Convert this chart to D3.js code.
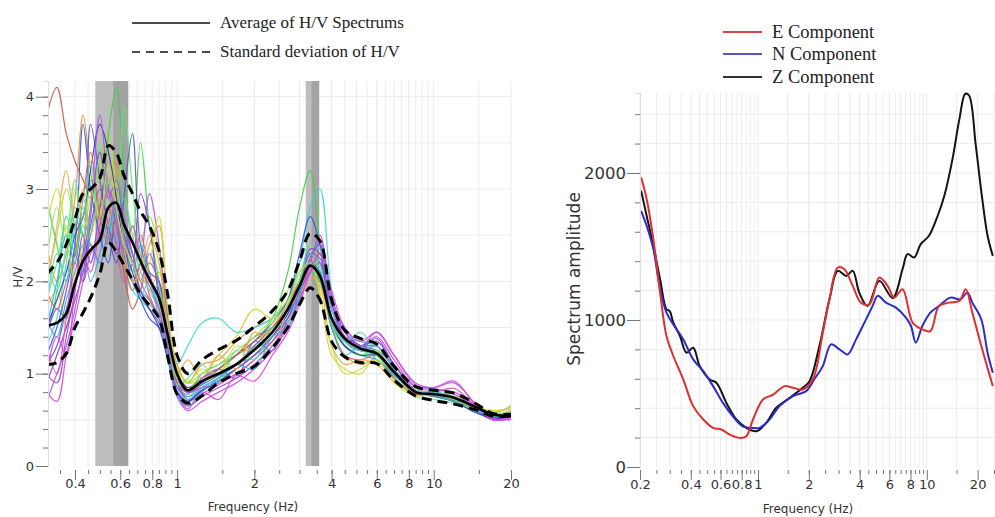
<!DOCTYPE html>
<html>
<head>
<meta charset="utf-8">
<script src="https://cdn.jsdelivr.net/npm/d3@7"></script>
<style>
  body { margin: 0; background: #fff; }
  svg { display: block; }
</style>
</head>
<body>
<script>
// ---------- left chart data (H/V) ----------
const hvFreq = [0.31, 0.34, 0.37, 0.40, 0.43, 0.46, 0.50, 0.54, 0.58, 0.62, 0.67, 0.72, 0.78, 0.85, 0.92,
  1.0, 1.1, 1.25, 1.45, 1.7, 2.0, 2.35, 2.7, 3.0, 3.3, 3.6, 4.0, 4.5, 5.2, 6.0, 7.0, 8.5, 10, 12, 14.5, 17, 20];

const hvMean = [1.52, 1.55, 1.65, 1.98, 2.22, 2.34, 2.45, 2.8, 2.85, 2.62, 2.42, 2.22, 2.02, 1.82, 1.42,
  1.0, 0.82, 0.92, 1.0, 1.1, 1.26, 1.45, 1.7, 1.95, 2.17, 2.06, 1.6, 1.38, 1.27, 1.22, 1.02, 0.8, 0.78, 0.74, 0.64, 0.56, 0.54];
const hvUpper = [2.08, 2.2, 2.4, 2.67, 2.95, 3.0, 3.12, 3.47, 3.39, 3.15, 2.95, 2.76, 2.6, 2.33, 1.85,
  1.2, 1.0, 1.15, 1.26, 1.36, 1.51, 1.68, 1.9, 2.22, 2.52, 2.44, 1.8, 1.47, 1.38, 1.32, 1.08, 0.86, 0.82, 0.79, 0.68, 0.57, 0.56];
const hvLower = [1.1, 1.12, 1.22, 1.5, 1.66, 1.82, 2.08, 2.42, 2.32, 2.18, 2.02, 1.86, 1.74, 1.6, 1.18,
  0.78, 0.68, 0.76, 0.9, 1.0, 1.08, 1.28, 1.5, 1.75, 1.93, 1.8, 1.35, 1.18, 1.12, 1.11, 0.93, 0.76, 0.71, 0.67, 0.61, 0.54, 0.54];

// individual windows
const hvColors = ["#c4553c", "#e8922c", "#d6cf34", "#a8e040", "#3fcf45", "#5cf05a", "#30c890", "#34d6d6",
  "#42a2e8", "#3456e0", "#5a52d4", "#7a40d8", "#9a42c8", "#d244d8", "#e052b2", "#92e862", "#2a3ab2",
  "#e26442", "#52caf0", "#b052e0", "#f0a848", "#5ee0a0", "#7e5ee6", "#e23ee2", "#2fb2d4", "#c2e030"];
const hvCurves = [
  [3.8, 4.1, 3.6, 3.3, 3.1, 2.9, 3.4, 3.0, 2.6, 2.1, 1.7, 1.9, 2.2, 2.0, 1.5, 1.0, 0.85, 0.95, 1.05, 1.2, 1.4, 1.5, 1.75, 2.0, 2.2, 2.0, 1.6, 1.4, 1.3, 1.2, 1.0, 0.82, 0.8, 0.75, 0.65, 0.55, 0.55],
  [2.4, 2.0, 2.3, 2.9, 3.8, 3.2, 2.6, 3.0, 3.3, 2.5, 2.2, 2.0, 2.4, 2.6, 1.6, 1.1, 0.9, 1.1, 1.15, 1.35, 1.5, 1.6, 1.8, 2.0, 2.2, 2.1, 1.5, 1.2, 1.1, 1.15, 0.95, 0.78, 0.76, 0.72, 0.62, 0.55, 0.6],
  [1.7, 1.9, 1.5, 2.2, 2.6, 2.3, 2.7, 3.5, 3.0, 2.2, 2.6, 2.3, 1.9, 2.1, 1.5, 1.05, 0.9, 0.95, 1.2, 1.4, 1.7, 1.6, 1.9, 2.1, 2.3, 1.9, 1.2, 1.05, 1.0, 1.2, 0.95, 0.78, 0.8, 0.76, 0.65, 0.6, 0.62],
  [2.0, 2.5, 3.0, 2.6, 2.2, 2.8, 3.2, 3.6, 3.0, 2.6, 2.2, 2.4, 2.7, 2.3, 1.5, 0.95, 0.8, 0.9, 1.0, 1.2, 1.3, 1.5, 1.8, 2.2, 2.4, 2.2, 1.7, 1.4, 1.35, 1.3, 1.05, 0.8, 0.78, 0.7, 0.62, 0.55, 0.6],
  [2.9, 2.4, 2.0, 2.7, 2.5, 3.1, 2.8, 3.6, 4.1, 3.2, 2.4, 3.5, 2.6, 2.0, 1.4, 0.9, 0.8, 1.0, 1.1, 1.2, 1.35, 1.6, 2.1, 2.8, 3.2, 2.4, 1.6, 1.3, 1.2, 1.25, 1.0, 0.8, 0.78, 0.72, 0.6, 0.55, 0.58],
  [1.8, 2.2, 2.6, 2.3, 2.8, 2.5, 3.5, 3.0, 2.6, 3.9, 3.0, 2.3, 2.0, 1.9, 1.3, 0.85, 0.75, 0.9, 1.0, 1.1, 1.2, 1.4, 1.6, 1.9, 2.1, 2.0, 1.5, 1.3, 1.2, 1.2, 0.95, 0.75, 0.72, 0.68, 0.6, 0.55, 0.56],
  [1.4, 1.9, 2.7, 2.4, 2.1, 2.5, 2.9, 2.4, 3.2, 2.7, 2.2, 1.9, 1.8, 1.6, 1.2, 0.8, 0.7, 0.85, 0.95, 1.05, 1.2, 1.35, 1.6, 1.85, 2.1, 2.0, 1.6, 1.35, 1.25, 1.2, 1.0, 0.8, 0.76, 0.7, 0.6, 0.52, 0.54],
  [1.3, 1.6, 2.2, 2.8, 2.5, 2.2, 2.6, 2.9, 2.5, 2.2, 1.9, 1.8, 1.7, 1.6, 1.45, 1.1, 1.3, 1.55, 1.6, 1.45, 1.5, 1.6, 1.8, 2.2, 2.8, 3.0, 1.9, 1.4, 1.35, 1.3, 1.05, 0.82, 0.8, 0.74, 0.62, 0.55, 0.56],
  [1.6, 1.4, 1.8, 2.1, 2.4, 2.0, 2.3, 2.8, 2.4, 2.6, 2.3, 1.9, 1.75, 1.65, 1.3, 0.9, 0.75, 0.85, 0.95, 1.1, 1.25, 1.4, 1.65, 1.95, 2.3, 2.2, 1.6, 1.3, 1.2, 1.15, 0.98, 0.8, 0.75, 0.7, 0.6, 0.55, 0.55],
  [1.2, 1.5, 1.9, 2.4, 3.7, 3.0, 2.5, 2.2, 2.8, 2.4, 2.0, 1.8, 1.6, 1.5, 1.35, 1.0, 0.85, 0.9, 1.05, 1.2, 1.35, 1.55, 1.8, 2.3, 2.7, 2.4, 1.7, 1.4, 1.3, 1.3, 1.05, 0.8, 0.78, 0.72, 0.6, 0.52, 0.55],
  [1.1, 1.3, 1.7, 2.0, 2.3, 3.7, 3.1, 2.5, 2.2, 2.9, 3.6, 2.4, 2.1, 2.0, 1.4, 0.95, 0.8, 0.88, 0.98, 1.1, 1.3, 1.5, 1.7, 2.0, 2.35, 2.3, 1.7, 1.4, 1.3, 1.25, 1.1, 0.8, 0.76, 0.7, 0.6, 0.55, 0.56],
  [0.9, 1.2, 1.5, 1.8, 2.1, 2.6, 3.0, 2.6, 2.3, 2.5, 2.2, 2.95, 2.6, 1.8, 1.3, 0.9, 0.72, 0.82, 0.9, 1.0, 1.15, 1.35, 1.6, 1.9, 2.25, 2.4, 1.75, 1.45, 1.3, 1.35, 1.1, 0.82, 0.8, 0.74, 0.62, 0.55, 0.55],
  [1.0, 0.9, 1.4, 1.9, 2.5, 2.2, 2.8, 3.3, 2.9, 2.5, 2.2, 1.9, 1.7, 1.55, 1.2, 0.8, 0.65, 0.75, 0.85, 0.95, 1.1, 1.3, 1.55, 1.8, 2.1, 2.2, 1.6, 1.35, 1.25, 1.3, 1.05, 0.78, 0.78, 0.72, 0.6, 0.5, 0.54],
  [0.8, 0.7, 1.2, 1.6, 2.0, 2.4, 2.2, 2.6, 3.0, 2.7, 2.3, 2.0, 1.8, 1.6, 1.2, 0.75, 0.6, 0.7, 0.8, 0.9, 1.05, 1.25, 1.5, 1.8, 2.2, 2.5, 1.8, 1.4, 1.3, 1.4, 1.15, 0.85, 0.82, 0.8, 0.65, 0.5, 0.52],
  [1.3, 1.0, 1.6, 2.2, 2.0, 2.3, 2.5, 2.8, 2.4, 2.0, 2.2, 2.5, 2.1, 1.7, 1.3, 0.85, 0.7, 0.78, 0.88, 1.0, 1.15, 1.35, 1.55, 1.85, 2.15, 2.3, 1.7, 1.35, 1.25, 1.3, 1.05, 0.82, 0.8, 0.84, 0.65, 0.52, 0.55],
  [2.2, 2.8, 2.4, 3.0, 2.6, 2.9, 3.3, 2.8, 3.1, 2.3, 2.0, 2.3, 2.0, 1.75, 1.3, 0.95, 0.9, 1.0, 1.1, 1.25, 1.4, 1.6, 1.8, 2.05, 2.25, 2.1, 1.6, 1.35, 1.2, 1.25, 1.0, 0.78, 0.78, 0.72, 0.62, 0.56, 0.66],
  [1.5, 1.8, 2.1, 2.5, 2.7, 3.2, 3.7, 3.4, 2.9, 2.4, 2.1, 1.85, 1.7, 1.5, 1.15, 0.8, 0.7, 0.82, 0.92, 1.05, 1.2, 1.4, 1.65, 1.95, 2.2, 2.1, 1.55, 1.3, 1.2, 1.2, 1.0, 0.8, 0.76, 0.7, 0.58, 0.52, 0.54],
  [1.9, 1.7, 2.0, 2.3, 2.9, 3.4, 2.7, 2.4, 2.7, 2.2, 1.9, 2.2, 1.85, 1.6, 1.25, 0.9, 0.8, 0.92, 1.05, 1.2, 1.35, 1.5, 1.7, 1.95, 2.2, 2.05, 1.5, 1.2, 1.15, 1.2, 0.95, 0.78, 0.76, 0.7, 0.6, 0.55, 0.56],
  [1.7, 2.3, 2.0, 2.6, 2.9, 2.6, 2.9, 2.6, 2.7, 2.3, 2.0, 1.85, 2.0, 1.7, 1.3, 0.85, 0.72, 0.85, 0.95, 1.1, 1.25, 1.45, 1.7, 2.0, 2.4, 2.35, 1.7, 1.35, 1.25, 1.3, 1.05, 0.8, 0.8, 0.75, 0.62, 0.55, 0.55],
  [0.7, 1.0, 1.3, 1.7, 2.2, 2.8, 3.8, 3.0, 2.6, 2.3, 2.0, 2.2, 2.95, 2.4, 1.6, 1.0, 0.8, 0.85, 0.9, 1.05, 1.2, 1.4, 1.6, 1.85, 2.2, 2.45, 1.85, 1.45, 1.3, 1.45, 1.2, 0.9, 0.85, 0.9, 0.68, 0.52, 0.5],
  [1.9, 2.6, 3.2, 2.7, 3.0, 2.5, 2.9, 2.6, 3.2, 2.4, 2.0, 2.1, 2.5, 2.2, 1.4, 1.0, 1.15, 0.95, 1.2, 1.05, 1.45, 1.3, 1.7, 1.85, 2.05, 1.95, 1.3, 1.1, 1.15, 1.1, 0.92, 0.8, 0.78, 0.74, 0.62, 0.58, 0.64],
  [2.3, 1.9, 2.4, 3.1, 2.7, 3.3, 2.6, 3.1, 2.7, 2.9, 2.5, 2.1, 1.9, 1.7, 1.35, 0.88, 0.95, 1.1, 0.9, 1.25, 1.15, 1.5, 1.55, 2.0, 2.3, 2.15, 1.55, 1.35, 1.45, 1.2, 1.0, 0.82, 0.8, 0.72, 0.6, 0.56, 0.58],
  [1.4, 1.7, 1.6, 2.3, 2.0, 2.7, 3.4, 2.9, 3.1, 2.6, 2.3, 2.0, 2.3, 1.9, 1.3, 0.85, 0.78, 0.95, 1.05, 0.95, 1.35, 1.25, 1.6, 1.9, 2.3, 2.25, 1.75, 1.5, 1.3, 1.38, 1.1, 0.86, 0.84, 0.78, 0.64, 0.54, 0.55],
  [1.0, 1.4, 1.2, 1.9, 2.3, 2.1, 2.6, 3.0, 2.7, 2.35, 2.6, 2.2, 1.95, 1.7, 1.25, 0.78, 0.62, 0.8, 0.72, 0.98, 0.92, 1.2, 1.45, 1.75, 2.1, 2.3, 1.9, 1.5, 1.35, 1.45, 1.2, 0.88, 0.85, 0.92, 0.66, 0.5, 0.52],
  [1.5, 2.0, 2.5, 2.2, 2.7, 2.4, 2.2, 2.5, 2.9, 2.5, 2.1, 2.4, 2.05, 1.6, 1.2, 0.75, 0.65, 0.8, 0.95, 1.1, 1.05, 1.4, 1.5, 1.85, 2.2, 2.1, 1.5, 1.2, 1.3, 1.15, 0.98, 0.8, 0.76, 0.7, 0.6, 0.54, 0.55],
  [2.6, 3.0, 2.5, 2.0, 2.4, 3.0, 2.7, 3.3, 2.8, 2.4, 2.2, 2.0, 2.2, 2.7, 1.7, 1.05, 0.92, 1.05, 1.0, 1.3, 1.25, 1.55, 1.75, 2.1, 2.2, 1.85, 1.3, 1.0, 1.05, 1.15, 0.9, 0.76, 0.78, 0.74, 0.64, 0.6, 0.62]
];

// peak bands [from, split, to] in Hz
const hvBands = [[0.48, 0.563, 0.645], [3.17, 3.33, 3.58]];

const hvTickLabels = [0.4, 0.6, 0.8, 1, 2, 4, 6, 8, 10, 20];
const hvYTicks = [0, 1, 2, 3, 4];

// ---------- right chart data (spectra) ----------
const freqZ = [0.203, 0.219, 0.24, 0.263, 0.287, 0.3, 0.315, 0.345, 0.377, 0.413, 0.452, 0.518, 0.567, 0.65, 0.745, 0.853, 0.977,
  1.12, 1.28, 1.54, 1.84, 2.02, 2.31, 2.65, 2.97, 3.33, 3.64, 3.98, 4.46, 5.23, 6.27, 7.18, 7.69, 8.42, 9.2, 10.3, 11.6, 12.7,
  14.2, 15.6, 16.9, 17.8, 19.5, 21.3, 22.9, 24.6];
const ampZ = [1880, 1709, 1505, 1277, 1073, 1060, 982, 891, 777, 811, 686, 595, 573, 436, 323, 266, 243,
  300, 402, 470, 539, 584, 823, 1141, 1334, 1300, 1334, 1186, 1095, 1266, 1150, 1345, 1448, 1425, 1516, 1573, 1709, 1845,
  2096, 2368, 2539, 2527, 2187, 1823, 1573, 1436];

const freqE = [0.203, 0.219, 0.24, 0.263, 0.287, 0.315, 0.361, 0.413, 0.474, 0.542, 0.607, 0.68, 0.78, 0.853, 0.934,
  1.07, 1.23, 1.44, 1.61, 1.84, 2.11, 2.42, 2.65, 2.97, 3.25, 3.64, 4.07, 4.57, 5.23, 5.86, 6.41, 7.18, 8.24, 9.41,
  10.5, 11.8, 13.5, 15.6, 17.0, 18.6, 21.3, 24.6];
const ampE = [1971, 1823, 1550, 1186, 891, 755, 595, 414, 323, 266, 255, 220, 198, 209, 323,
  459, 493, 550, 539, 527, 595, 914, 1141, 1357, 1345, 1232, 1118, 1107, 1289, 1232, 1152, 1209, 982, 936,
  925, 1095, 1118, 1130, 1209, 1050, 800, 550];

const freqN = [0.203, 0.219, 0.24, 0.263, 0.287, 0.315, 0.361, 0.413, 0.474, 0.542, 0.62, 0.71, 0.81, 0.934, 1.02,
  1.17, 1.34, 1.61, 1.93, 2.15, 2.42, 2.71, 3.04, 3.4, 3.81, 4.27, 4.77, 5.12, 5.73, 6.56, 7.52, 8.06, 8.6, 9.41,
  10.5, 11.8, 13.8, 15.8, 17.4, 18.6, 21.0, 22.9, 24.6];
const ampN = [1743, 1641, 1482, 1209, 1050, 970, 868, 732, 652, 550, 436, 345, 277, 266, 266,
  323, 414, 482, 516, 595, 686, 834, 800, 766, 868, 982, 1095, 1164, 1118, 1084, 1016, 959, 846, 959,
  1050, 1095, 1152, 1141, 1186, 1118, 1005, 777, 641];

const specSeries = [
  { name: "E Component", freq: freqE, amp: ampE, color: "#dd3030" },
  { name: "N Component", freq: freqN, amp: ampN, color: "#2c2cc8" },
  { name: "Z Component", freq: freqZ, amp: ampZ, color: "#141414" }
];
const specTickLabels = [0.2, 0.4, 0.6, 0.8, 1, 2, 4, 6, 8, 10, 20];
const specYTicks = [0, 1000, 2000];

// ---------- page ----------
const W = 995, H = 517;
const svg = d3.select("body").append("svg").attr("width", W).attr("height", H);
const uiFont = "DejaVu Sans, Verdana, sans-serif";
const serif = "Liberation Serif, Times New Roman, serif";

// minor ticks above 1 Hz: half steps to 10, then 15 and 20
const minorHi = d3.range(1.5, 10, 0.5).concat([15]);
function fmt(v) { return d3.format("~g")(v); }

function drawGrid(g, x, y, xt, yt, x0, x1, y0, y1) {
  g.append("g").selectAll("line").data(xt).join("line")
    .attr("x1", d => x(d)).attr("x2", d => x(d)).attr("y1", y0).attr("y2", y1)
    .attr("stroke", "#ececec").attr("stroke-width", 1);
  g.append("g").selectAll("line").data(yt).join("line")
    .attr("x1", x0).attr("x2", x1).attr("y1", d => y(d)).attr("y2", d => y(d))
    .attr("stroke", "#ececec").attr("stroke-width", 1);
}

// ================= LEFT: H/V =================
const xL = d3.scaleLog().domain([0.314, 20]).range([48, 511]);
const yL = d3.scaleLinear().domain([0, 4.17]).range([466, 81]);
const gL = svg.append("g");

const minorL = d3.range(35, 100, 5).map(v => v / 100).concat(minorHi);
drawGrid(gL, xL, yL, minorL.concat([1, 2, 4, 6, 8, 10, 20]), d3.range(0.5, 4.2, 0.5), 48, 511, 466, 81);

// bands
hvBands.forEach(b => {
  gL.append("rect").attr("x", xL(b[0])).attr("y", 81).attr("width", xL(b[1]) - xL(b[0])).attr("height", 466 - 81)
    .attr("fill", "#bdbdbd");
  gL.append("rect").attr("x", xL(b[1])).attr("y", 81).attr("width", xL(b[2]) - xL(b[1])).attr("height", 466 - 81)
    .attr("fill", "#a3a3a6");
});

svg.append("clipPath").attr("id", "clipL").append("rect")
  .attr("x", 48).attr("y", 81).attr("width", 463).attr("height", 385);

const lineL = d3.line().x(d => xL(d[0])).y(d => yL(d[1])).curve(d3.curveCatmullRom.alpha(0.5));
const curvesG = gL.append("g").attr("clip-path", "url(#clipL)");
hvCurves.forEach((c, i) => {
  curvesG.append("path").attr("d", lineL(hvFreq.map((f, j) => [f, c[j]])))
    .attr("fill", "none").attr("stroke", hvColors[i]).attr("stroke-width", 1.2).attr("opacity", 0.9);
});
[hvUpper, hvLower].forEach(s => {
  curvesG.append("path").attr("d", lineL(hvFreq.map((f, j) => [f, s[j]])))
    .attr("fill", "none").attr("stroke", "#000").attr("stroke-width", 3)
    .attr("stroke-dasharray", "10,6");
});
curvesG.append("path").attr("d", lineL(hvFreq.map((f, j) => [f, hvMean[j]])))
  .attr("fill", "none").attr("stroke", "#000").attr("stroke-width", 2.6);

// axes
const axLmin = gL.append("g").attr("transform", "translate(0,470)")
  .call(d3.axisBottom(xL).tickValues(minorL).tickSize(4).tickFormat(""));
const axLmaj = gL.append("g").attr("transform", "translate(0,470)")
  .call(d3.axisBottom(xL).tickValues(hvTickLabels).tickSize(10).tickFormat(fmt));
[axLmin, axLmaj].forEach(a => { a.select(".domain").remove(); a.selectAll("line").attr("stroke", "#777"); });
axLmaj.selectAll("text").attr("font-family", uiFont).attr("font-size", 13).attr("fill", "#333").attr("dy", "0.55em")
  .attr("y", 11);

const ayLmin = gL.append("g").attr("transform", "translate(48,0)")
  .call(d3.axisLeft(yL).tickValues(d3.range(0, 4.1, 0.2)).tickSize(5).tickFormat(""));
const ayLmaj = gL.append("g").attr("transform", "translate(48,0)")
  .call(d3.axisLeft(yL).tickValues(hvYTicks).tickSize(12).tickFormat(fmt));
ayLmin.select(".domain").attr("stroke", "#ddd");
ayLmaj.select(".domain").remove();
[ayLmin, ayLmaj].forEach(a => a.selectAll("line").attr("stroke", "#777"));
ayLmaj.selectAll("text").attr("font-family", uiFont).attr("font-size", 13).attr("fill", "#333").attr("x", -14);

gL.append("text").attr("x", 253).attr("y", 511).attr("text-anchor", "middle")
  .attr("font-family", uiFont).attr("font-size", 12).attr("fill", "#333").text("Frequency (Hz)");
gL.append("text").attr("transform", "translate(22,277) rotate(-90)").attr("text-anchor", "middle")
  .attr("font-family", uiFont).attr("font-size", 12).attr("fill", "#333").text("H/V");

// legend
const legL = svg.append("g");
legL.append("line").attr("x1", 132).attr("x2", 210).attr("y1", 23).attr("y2", 23)
  .attr("stroke", "#111").attr("stroke-width", 1.6);
legL.append("line").attr("x1", 132).attr("x2", 210).attr("y1", 52).attr("y2", 52)
  .attr("stroke", "#111").attr("stroke-width", 1.6).attr("stroke-dasharray", "8,6");
legL.append("text").attr("x", 220).attr("y", 28).attr("font-family", serif).attr("font-size", 17)
  .attr("fill", "#222").text("Average of H/V Spectrums");
legL.append("text").attr("x", 220).attr("y", 57).attr("font-family", serif).attr("font-size", 17)
  .attr("fill", "#222").text("Standard deviation of H/V");

// ================= RIGHT: spectra =================
const xR = d3.scaleLog().domain([0.2, 25]).range([640, 994]);
const yR = d3.scaleLinear().domain([0, 2544]).range([467, 93]);
const gR = svg.append("g");

const minorR = d3.range(25, 100, 5).map(v => v / 100).concat(minorHi).concat([25]);
drawGrid(gR, xR, yR, minorR.concat([0.2, 1, 2, 4, 6, 8, 10, 20]), d3.range(200, 2544, 200), 640, 994, 467, 93);

const lineR = d3.line().x(d => xR(d[0])).y(d => yR(d[1])).curve(d3.curveCatmullRom.alpha(0.5));
specSeries.slice().reverse().forEach(s => {
  gR.append("path").attr("d", lineR(s.freq.map((f, j) => [f, s.amp[j]])))
    .attr("fill", "none").attr("stroke", s.color).attr("stroke-width", 2);
});

const axRmin = gR.append("g").attr("transform", "translate(0,470)")
  .call(d3.axisBottom(xR).tickValues(minorR).tickSize(4).tickFormat(""));
const axRmaj = gR.append("g").attr("transform", "translate(0,470)")
  .call(d3.axisBottom(xR).tickValues(specTickLabels).tickSize(10).tickFormat(fmt));
[axRmin, axRmaj].forEach(a => { a.select(".domain").remove(); a.selectAll("line").attr("stroke", "#777"); });
axRmaj.selectAll("text").attr("font-family", uiFont).attr("font-size", 13).attr("fill", "#333").attr("dy", "0.55em")
  .attr("y", 12);

const ayRmin = gR.append("g").attr("transform", "translate(640,0)")
  .call(d3.axisLeft(yR).tickValues(d3.range(0, 2544, 200)).tickSize(5).tickFormat(""));
const ayRmaj = gR.append("g").attr("transform", "translate(640,0)")
  .call(d3.axisLeft(yR).tickValues(specYTicks).tickSize(13).tickFormat(d => d));
ayRmin.select(".domain").attr("stroke", "#ddd");
ayRmaj.select(".domain").remove();
[ayRmin, ayRmaj].forEach(a => a.selectAll("line").attr("stroke", "#777"));
ayRmaj.selectAll("text").attr("font-family", uiFont).attr("font-size", 16.5).attr("fill", "#333").attr("x", -14);

gR.append("text").attr("x", 808).attr("y", 513).attr("text-anchor", "middle")
  .attr("font-family", uiFont).attr("font-size", 12).attr("fill", "#333").text("Frequency (Hz)");
gR.append("text").attr("transform", "translate(580,279) rotate(-90)").attr("text-anchor", "middle")
  .attr("font-family", uiFont).attr("font-size", 17).attr("fill", "#333").text("Spectrum amplitude");

const legR = svg.append("g");
const legRy = [32, 54, 77];
const legRcol = ["#d84444", "#5555c4", "#333"];
specSeries.forEach((s, i) => {
  legR.append("line").attr("x1", 723).attr("x2", 762).attr("y1", legRy[i]).attr("y2", legRy[i])
    .attr("stroke", legRcol[i]).attr("stroke-width", 2);
  legR.append("text").attr("x", 772).attr("y", legRy[i] + 6).attr("font-family", serif).attr("font-size", 18.5)
    .attr("fill", "#222").text(s.name);
});
</script>
</body>
</html>
